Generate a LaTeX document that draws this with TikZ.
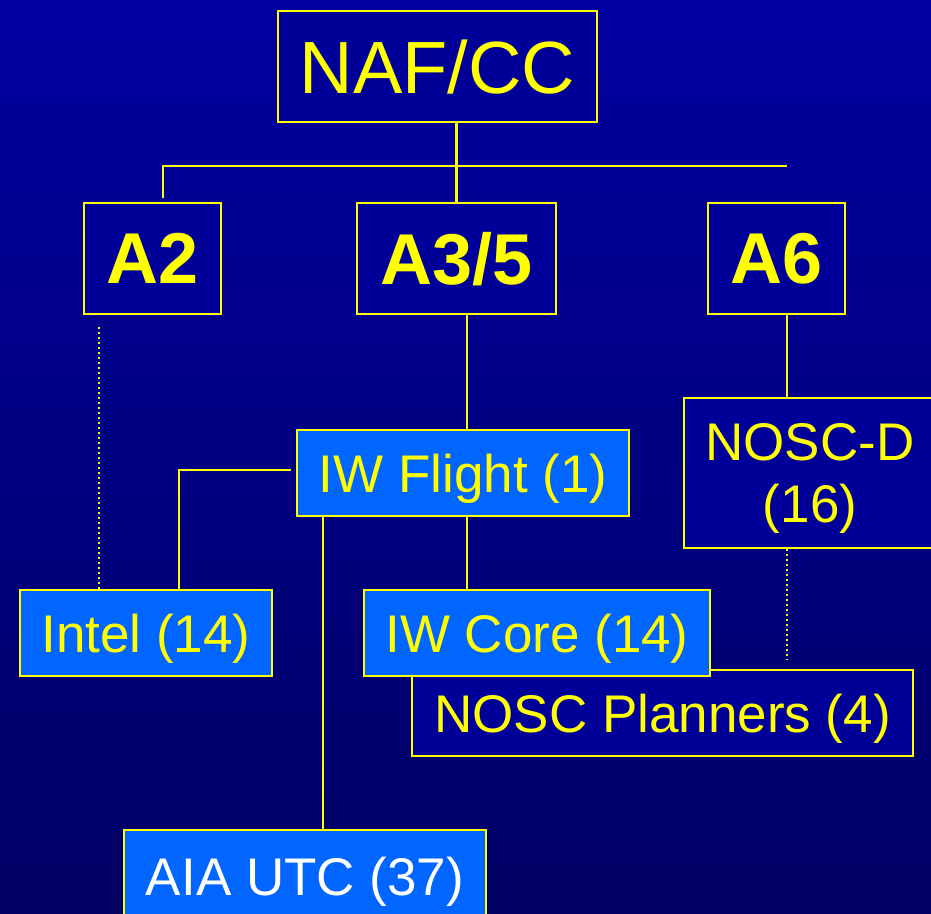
\documentclass[tikz,border=0pt]{standalone}
\usepackage{fontspec}
\setmainfont{Liberation Sans}
\usepackage{xcolor}
\usetikzlibrary{positioning}

\definecolor{ncyellow}{RGB}{255,255,0}
\definecolor{ncdark}{RGB}{0,0,153}
\definecolor{nclight}{RGB}{0,102,255}
\definecolor{bgtop}{RGB}{0,0,160}
\definecolor{bgbot}{RGB}{0,0,100}

\begin{document}
\begin{tikzpicture}[
  x=1pt, y=-1pt,
  box/.style={rectangle, draw=ncyellow, line width=2.8pt, inner sep=0pt,
              text depth=0pt, fill=ncdark, text=ncyellow, align=center},
  litebox/.style={box, fill=nclight},
  bigtxt/.style={font=\fontsize{74}{80}\selectfont},
  headtxt/.style={font=\bfseries\fontsize{72}{78}\selectfont},
  unittxt/.style={font=\fontsize{53}{62}\selectfont},
  link/.style={draw=ncyellow, line width=2.2pt},
  dotlink/.style={link, dash pattern=on 2pt off 3pt},
]

% page and background
\useasboundingbox (0,0) rectangle (931,913);
\clip (0,0) rectangle (931,913);
\shade[top color=bgtop, bottom color=bgbot] (0,0) rectangle (931,913);

% top of the chart
\node[box, bigtxt, minimum width=319pt, minimum height=111pt] (naf) at (437.5,66.5) {NAF/CC};

% directorates
\node[box, headtxt, minimum width=137pt, minimum height=111pt] (atwo)   at (152.5,258.5) {A2};
\node[box, headtxt, minimum width=199pt, minimum height=111pt] (athree) at (456.5,258.5) {A3/5};
\node[box, headtxt, minimum width=137pt, minimum height=111pt] (asix)   at (776.5,258.5) {A6};

% units
\node[litebox, unittxt, minimum width=332pt, minimum height=86pt] (flight) at (463,473) {IW Flight (1)};
\node[box, unittxt, minimum width=252pt, minimum height=150pt] (noscd) at (810,473) {NOSC-D\\(16)};
\node[litebox, unittxt, minimum width=252pt, minimum height=86pt] (intel) at (146,633) {Intel (14)};
\node[box, unittxt, minimum width=501pt, minimum height=86pt] (planners) at (662.5,713) {NOSC Planners (4)};
\node[litebox, unittxt, minimum width=346pt, minimum height=86pt] (core) at (537,633) {IW Core (14)};
\node[litebox, unittxt, minimum width=362pt, minimum height=92pt, text=white] (aia) at (305,876) {AIA UTC (37)};

% helper points for the lines
\coordinate (a2top) at (163,198);
\coordinate (a6x)   at (787,166);
\coordinate (spine) at (467,400);
\coordinate (a2dot) at (99,327);
\coordinate (fl)    at (291,470);
\coordinate (intx)  at (179,590);
\coordinate (aiax)  at (323,700);
\coordinate (ddend) at (787,660);

% lines
\draw[link] (athree.north) -- (athree.north |- naf.south);
\draw[link] (a2top) |- (a6x);
\draw[link] (athree.south -| spine) -- (flight.north -| spine);
\draw[link] (flight.south -| spine) -- (core.north -| spine);
\draw[link] (asix.south -| a6x) -- (noscd.north -| a6x);
\draw[link] (fl) -| (intx);
\draw[link] (flight.south -| aiax) -- (aia.north -| aiax);
\draw[dotlink] (a2dot) -- (a2dot |- intel.north);
\draw[dotlink] (noscd.south -| a6x) -- (ddend);

\end{tikzpicture}
\end{document}
